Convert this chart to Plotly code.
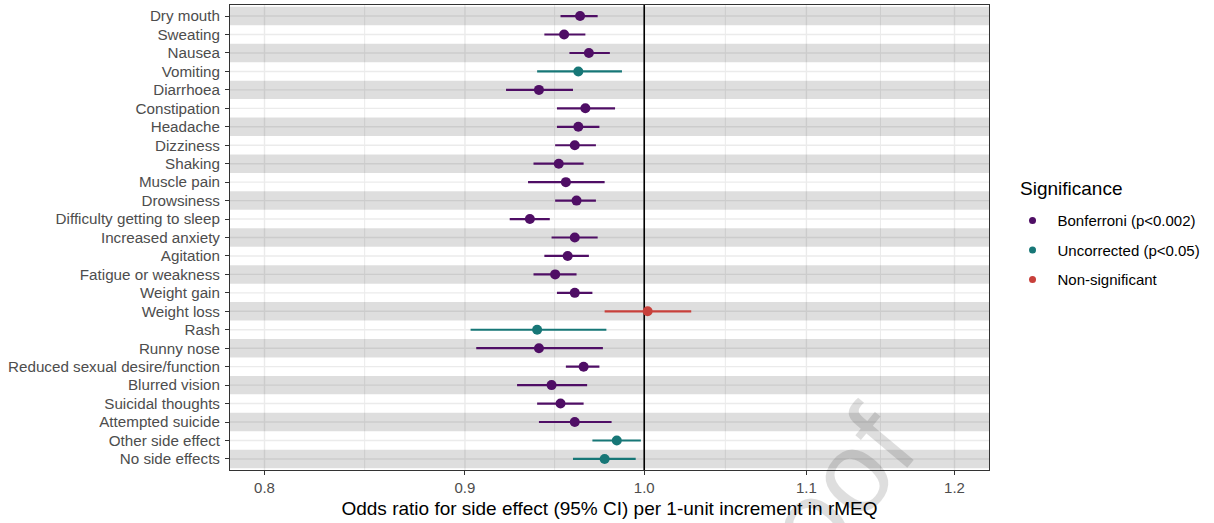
import math
import plotly.graph_objects as go

side_effects = ["Dry mouth", "Sweating", "Nausea", "Vomiting", "Diarrhoea", "Constipation",
                "Headache", "Dizziness", "Shaking", "Muscle pain", "Drowsiness",
                "Difficulty getting to sleep", "Increased anxiety", "Agitation",
                "Fatigue or weakness", "Weight gain", "Weight loss", "Rash", "Runny nose",
                "Reduced sexual desire/function", "Blurred vision", "Suicidal thoughts",
                "Attempted suicide", "Other side effect", "No side effects"]
odds_ratio = [0.963, 0.954, 0.968, 0.962, 0.940, 0.966, 0.962, 0.960, 0.951, 0.955, 0.961,
              0.935, 0.960, 0.956, 0.949, 0.960, 1.002, 0.939, 0.940, 0.965, 0.947, 0.952,
              0.960, 0.984, 0.977]
ci_lower = [0.952, 0.943, 0.957, 0.939, 0.922, 0.950, 0.950, 0.949, 0.937, 0.934, 0.949,
            0.924, 0.947, 0.943, 0.937, 0.950, 0.977, 0.903, 0.906, 0.955, 0.928, 0.939,
            0.940, 0.970, 0.959]
ci_upper = [0.973, 0.966, 0.980, 0.987, 0.959, 0.983, 0.974, 0.972, 0.965, 0.977, 0.972,
            0.946, 0.973, 0.968, 0.961, 0.970, 1.028, 0.978, 0.976, 0.974, 0.967, 0.965,
            0.981, 0.998, 0.995]
significance = ["B", "B", "B", "U", "B", "B", "B", "B", "B", "B", "B", "B", "B", "B", "B",
                "B", "N", "U", "B", "B", "B", "B", "B", "U", "U"]

sig_codes = ["B", "U", "N"]
sig_labels = ["Bonferroni (p<0.002)", "Uncorrected (p<0.05)", "Non-significant"]
sig_colors = ["#4f0e65", "#177777", "#c8403b"]

x_tick_values = [0.8, 0.9, 1.0, 1.1, 1.2]
x_tick_labels = ["0.8", "0.9", "1.0", "1.1", "1.2"]
x_minor_values = [0.8485, 0.9487, 1.0488, 1.1489]
x_limits = [0.8, 1.2]

lo, hi = math.log10(x_limits[0]), math.log10(x_limits[1])
pad = (hi - lo) * 0.05
x_range = [lo - pad, hi + pad]
n = len(side_effects)

fig = go.Figure()
shapes = []
# gridlines (drawn as shapes so the stripes can tint them)
for v in x_minor_values:
    shapes.append(dict(type="line", xref="x", yref="paper", x0=v, x1=v, y0=0, y1=1,
                       line=dict(color="#ebebeb", width=1), layer="below"))
for v in x_tick_values:
    shapes.append(dict(type="line", xref="x", yref="paper", x0=v, x1=v, y0=0, y1=1,
                       line=dict(color="#ebebeb", width=1.4), layer="below"))
for i in range(n):
    shapes.append(dict(type="line", xref="paper", yref="y", x0=0, x1=1, y0=i, y1=i,
                       line=dict(color="#ebebeb", width=1.4), layer="below"))
# alternating stripes
for i in range(0, n, 2):
    shapes.append(dict(type="rect", xref="paper", yref="y", x0=0, x1=1, y0=i - 0.5, y1=i + 0.5,
                       fillcolor="rgba(0,0,0,0.13)", line=dict(width=0), layer="below"))
# reference line at OR = 1
shapes.append(dict(type="line", xref="x", yref="paper", x0=1.0, x1=1.0, y0=0, y1=1,
                   line=dict(color="black", width=1.6), layer="below"))

for code, label, color in zip(sig_codes, sig_labels, sig_colors):
    idx = [i for i in range(n) if significance[i] == code]
    xs = [odds_ratio[i] for i in idx]
    ys = [side_effects[i] for i in idx]
    fig.add_trace(go.Scatter(
        x=xs, y=ys, mode="markers",
        marker=dict(color=color, size=10),
        error_x=dict(type="data", symmetric=False,
                     array=[ci_upper[i] - odds_ratio[i] for i in idx],
                     arrayminus=[odds_ratio[i] - ci_lower[i] for i in idx],
                     color=color, thickness=2.2, width=0),
        showlegend=False, hoverinfo="x+y"))
for code, label, color in zip(sig_codes, sig_labels, sig_colors):
    fig.add_trace(go.Scatter(x=[None], y=[None], mode="markers", name=label,
                             legendgroup=code,
                             marker=dict(color=color, size=7), showlegend=True))

fig.update_layout(
    width=1214, height=523,
    margin=dict(l=230, r=225, t=5, b=53),
    paper_bgcolor="white", plot_bgcolor="white",
    font=dict(family="Liberation Sans, Arial, sans-serif", color="black"),
    shapes=shapes,
    xaxis=dict(type="log", range=x_range, tickvals=x_tick_values, ticktext=x_tick_labels,
               showgrid=False, zeroline=False, ticks="outside", ticklen=4, tickwidth=1,
               tickcolor="#333333", tickfont=dict(size=15, color="#4d4d4d"),
               showline=True, linecolor="#333333", linewidth=1, mirror=True,
               title=dict(text="Odds ratio for side effect (95% CI) per 1-unit increment in rMEQ",
                          font=dict(size=19, color="black"), standoff=6)),
    yaxis=dict(type="category", categoryorder="array", categoryarray=side_effects,
               range=[n - 1 + 0.6, -0.6], showgrid=False, zeroline=False,
               ticks="outside", ticklen=4, tickwidth=1, tickcolor="#333333",
               tickfont=dict(size=15.2, color="#4d4d4d"), ticklabelstandoff=2,
               showline=True, linecolor="#333333", linewidth=1, mirror=True),
    legend=dict(font=dict(size=15, color="black"), x=1.0244, xanchor="left",
                y=0.5716, yanchor="top", tracegroupgap=7, itemwidth=40,
                bgcolor="rgba(0,0,0,0)"),
    annotations=[
        dict(text="Significance", xref="paper", yref="paper", x=1.0388, y=0.606,
             xanchor="left", yanchor="middle", showarrow=False,
             font=dict(size=19, color="black")),
        dict(text="Proof", xref="paper", yref="paper", x=0.755, y=-0.13,
             xanchor="center", yanchor="middle", showarrow=False, textangle=-50,
             font=dict(size=115, color="rgba(0,0,0,0.13)",
                       family="Liberation Sans, Arial, sans-serif"))],
)

fig.write_html("out.html", config={"displayModeBar": False},
               post_script="document.body.style.margin='0';")
